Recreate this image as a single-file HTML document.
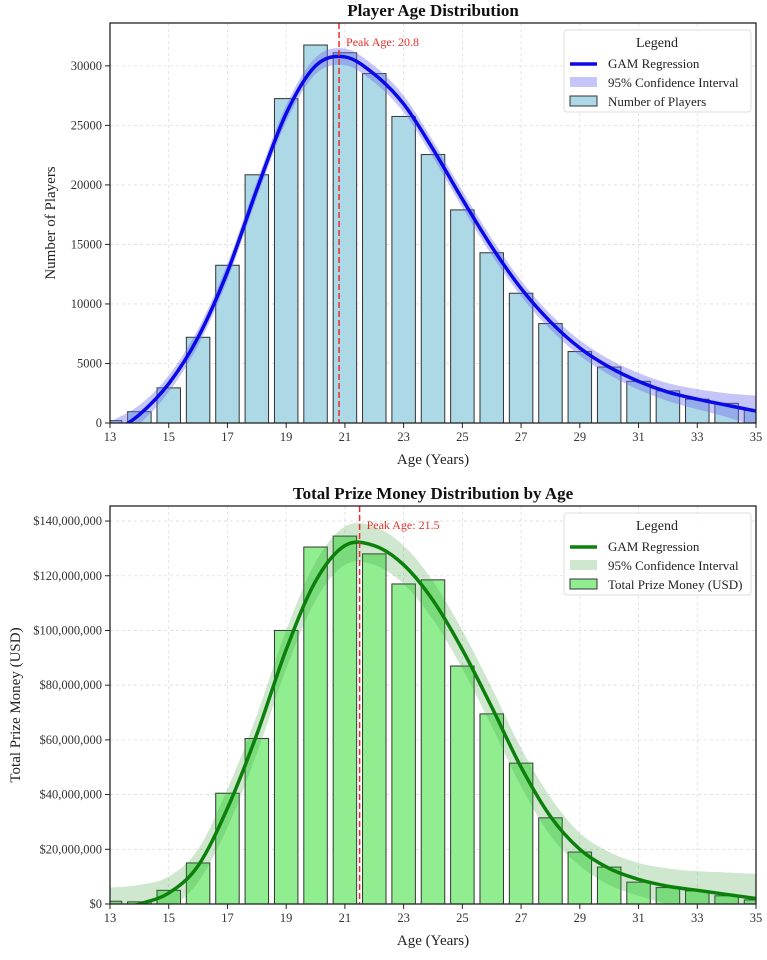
<!DOCTYPE html>
<html><head><meta charset="utf-8"><style>
body{margin:0;background:#fff;}
svg{display:block;font-family:"Liberation Serif",serif;}
</style></head><body>
<svg id="chart" width="767" height="960" xmlns="http://www.w3.org/2000/svg"></svg>
<script>
// ---- Top chart data ----
const ages = [13,14,15,16,17,18,19,20,21,22,23,24,25,26,27,28,29,30,31,32,33,34,35];
const players = [200,950,2950,7200,13250,20850,27250,31750,31100,29350,25750,22550,17900,14300,10900,8350,6000,4700,3500,2700,2000,1650,1050];
const gamX1 = [13,14,15,16,17,18,19,20,21,22,23,24,25,26,27,28,29,30,31,32,33,34,35];
const gamY1 = [-1000,700,3300,7200,12700,19600,26000,30000,30750,29300,26800,23000,18800,14800,11300,8500,6300,4700,3500,2600,2000,1500,1000];
const ciHalf1 = [1100,800,700,700,700,700,700,700,700,700,700,700,700,700,650,650,650,650,700,750,850,1000,1300];
const yTicks1 = [0,5000,10000,15000,20000,25000,30000];
const peak1 = 20.8;
// ---- Bottom chart data ----
const prize = [1.0,0.8,5,15,40.5,60.5,100,130.5,134.5,128,117,118.5,87,69.5,51.5,31.5,19,13.5,8,6,4.8,3,1.5];
const gamX2 = [13,14,15,16,17,18,19,20,21,22,23,24,25,26,27,28,29,30,31,32,33,34,35];
const gamY2 = [-3,0,4,14,35,62,93,118,131,131,124,111,93,72,50,32,20,13,9,6.5,5,3.5,2];
const ciHalf2 = [9,7,6,6,7,7,7,7,7,7,7,7,7,7,7,7,6,6,6,6.5,7,8,9];
const yTicks2 = [0,20,40,60,80,100,120,140];
const peak2 = 21.5;
const xTicks = [13,15,17,19,21,23,25,27,29,31,33,35];

const NS="http://www.w3.org/2000/svg";
const svg=document.getElementById('chart');
function mk(tag,attrs,parent){const e=document.createElementNS(NS,tag);for(const k in attrs)e.setAttribute(k,attrs[k]);(parent||svg).appendChild(e);return e;}

function drawPanel(o){
  const L=110,R=756,T=o.top,B=o.bottom;
  const xs=v=>L+(v-13)/22*(R-L);
  const ys=v=>B-(v/o.ymax)*(B-T);
  const g=mk('g',{});
  
  
  const clipId='clip-'+o.name;
  const cp=mk('clipPath',{id:clipId},g);mk('rect',{x:L,y:T,width:R-L,height:B-T},cp);
  xTicks.forEach(t=>{const l=mk('line',{x1:xs(t),x2:xs(t),y1:T,y2:B,stroke:'#ddd','stroke-dasharray':'3,3','stroke-width':0.8},g);});
  o.yticks.forEach(t=>{const l=mk('line',{x1:L,x2:R,y1:ys(t),y2:ys(t),stroke:'#ddd','stroke-dasharray':'3,3','stroke-width':0.8},g);});
  const pg=mk('g',{'clip-path':'url(#'+clipId+')'},g);
  const bw=(xs(1)-xs(0))*0.8;
  ages.forEach((a,i)=>{const y=ys(o.bars[i]);const r=mk('rect',{x:xs(a)-bw/2,y:y,width:bw,height:B-y,fill:o.barFill,stroke:'#333','stroke-width':1},pg);
    });
  function smooth(P){let d='M'+P[0][0]+','+P[0][1];
    for(let i=0;i<P.length-1;i++){const p0=P[Math.max(0,i-1)],p1=P[i],p2=P[i+1],p3=P[Math.min(P.length-1,i+2)];
      d+=' C'+(p1[0]+(p2[0]-p0[0])/6)+','+(p1[1]+(p2[1]-p0[1])/6)+' '+(p2[0]-(p3[0]-p1[0])/6)+','+(p2[1]-(p3[1]-p1[1])/6)+' '+p2[0]+','+p2[1];}
    return d;}
  const upP=o.gx.map((x,i)=>[xs(x),ys(o.gy[i]+o.ci[i])]);
  const loP=o.gx.map((x,i)=>[xs(x),ys(o.gy[i]-o.ci[i])]).reverse();
  const ci=mk('path',{d:smooth(upP)+' L'+smooth(loP).slice(1)+' Z',fill:o.ciFill,'fill-opacity':o.ciOp},pg);
  
  const P=o.gx.map((x,i)=>[xs(x),ys(o.gy[i])]);
  const c=mk('path',{d:smooth(P),fill:'none',stroke:o.line,'stroke-width':3.5},pg);
  
  const pl=mk('line',{x1:xs(o.peak),x2:xs(o.peak),y1:T,y2:B,stroke:'#e8302a','stroke-width':1.5,'stroke-dasharray':'6,3'},g);
  
  const pt=mk('text',{x:xs(o.peak)+7,y:T+23,fill:'#e8302a','font-size':12},g);pt.textContent='Peak Age: '+o.peak;
  
  const fr=mk('rect',{x:L,y:T,width:R-L,height:B-T,fill:'none',stroke:'#222','stroke-width':1.3},g);
  
  xTicks.forEach(t=>{mk('line',{x1:xs(t),x2:xs(t),y1:B,y2:B+5,stroke:'#222'},g);
    const tx=mk('text',{x:xs(t),y:B+18,'text-anchor':'middle','font-size':12.5,fill:'#333'},g);tx.textContent=t;
    });
  o.yticks.forEach(t=>{mk('line',{x1:L-5,x2:L,y1:ys(t),y2:ys(t),stroke:'#222'},g);
    const tx=mk('text',{x:L-8,y:ys(t)+4,'text-anchor':'end','font-size':12.5,fill:'#333'},g);tx.textContent=o.fmt(t);
    });
  const ti=mk('text',{x:(L+R)/2,y:T-7,'text-anchor':'middle','font-size':17,'font-weight':'bold',fill:'#111'},g);ti.textContent=o.title;
  
  const xl=mk('text',{x:(L+R)/2,y:B+41,'text-anchor':'middle','font-size':15,fill:'#222'},g);xl.textContent='Age (Years)';
  
  const yl=mk('text',{x:0,y:0,'text-anchor':'middle','font-size':15,fill:'#222',transform:'translate('+o.ylx+','+(T+B)/2+') rotate(-90)'},g);yl.textContent=o.ylabel;
  
  const lg=mk('g',{},g);
  const lx=564,ly=T+7;
  mk('rect',{x:lx,y:ly,width:187,height:82,fill:'#fff','fill-opacity':0.9,stroke:'#ddd',rx:3},lg);
  const lt=mk('text',{x:lx+93,y:ly+17,'text-anchor':'middle','font-size':14,fill:'#222'},lg);lt.textContent='Legend';
  mk('line',{x1:lx+6,x2:lx+33,y1:ly+34,y2:ly+34,stroke:o.line,'stroke-width':3.5},lg);
  mk('rect',{x:lx+6,y:ly+47,width:27,height:10,fill:o.ciFill,'fill-opacity':o.ciOp},lg);
  mk('rect',{x:lx+6,y:ly+66,width:27,height:10,fill:o.barFill,stroke:'#333'},lg);
  [['GAM Regression',38],['95% Confidence Interval',57],[o.barLabel,76]].forEach(e=>{const t=mk('text',{x:lx+44,y:ly+e[1],'font-size':13,fill:'#222'},lg);t.textContent=e[0];
    });
}
drawPanel({name:'players',top:23,bottom:423,ymax:33600,bars:players,gx:gamX1,gy:gamY1,ci:ciHalf1,yticks:yTicks1,peak:peak1,
  barFill:'#add8e6',line:'#0a0ae6',ciFill:'#6f6ff0',ciOp:0.4,fmt:t=>String(t),title:'Player Age Distribution',ylabel:'Number of Players',ylx:55,barLabel:'Number of Players'});
drawPanel({name:'prize',top:506,bottom:904,ymax:145.5,bars:prize,gx:gamX2,gy:gamY2,ci:ciHalf2,yticks:yTicks2,peak:peak2,
  barFill:'#90ee90',line:'#0b800b',ciFill:'#3a9e3a',ciOp:0.25,fmt:t=>'$'+(t*1e6).toLocaleString('en-US'),title:'Total Prize Money Distribution by Age',ylabel:'Total Prize Money (USD)',ylx:20,barLabel:'Total Prize Money (USD)'});
</script>
</body></html>
